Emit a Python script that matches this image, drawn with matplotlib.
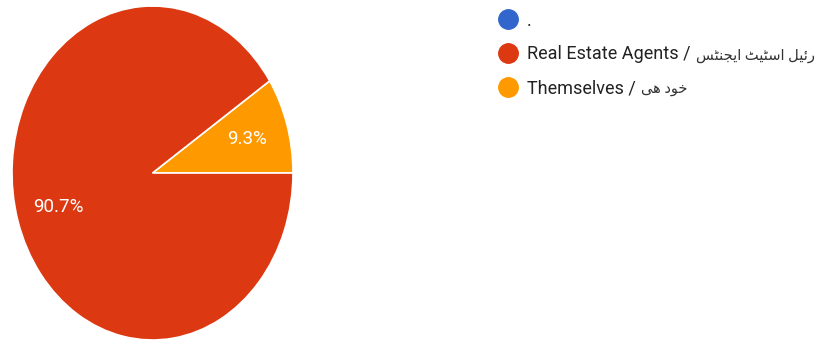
import matplotlib.pyplot as plt
import numpy as np
from matplotlib.lines import Line2D

plt.rcParams['font.family'] = ['Roboto', 'DejaVu Sans']

# Urdu parts are written in presentation forms, visual order (no shaping in matplotlib)
agents_ur = '\uFEB2\uFB69\uFEE8\uFEA0\uFBFE\uFE8D \uFB67\uFBFF\uFB69\uFEB3\uFE8D \uFEDE\uFBFF\uFE8B\uFEAD'
self_ur = '\uFBFD\uFEEB \uFEA9\uFEEE\uFEA7'

labels = ['.', 'Real Estate Agents /', 'Themselves /']
labels_ur = ['', agents_ur, self_ur]
values = [0.0, 90.7, 9.3]
colors = ['#3366cc', '#dc3912', '#ff9900']

fig = plt.figure(figsize=(8.24, 3.41), dpi=100)
ax = fig.add_axes([12 / 824, 1 / 341, 281 / 824, 334 / 341])

# draw orange first from 3 o'clock going counter-clockwise, then red
order = [2, 1]
wedges, _ = ax.pie([values[i] for i in order], colors=[colors[i] for i in order],
                   startangle=0, counterclock=True,
                   wedgeprops=dict(edgecolor='white', linewidth=1.2))
ax.set_aspect('auto')
ax.set_xlim(-1, 1)
ax.set_ylim(-1, 1)

# percentage labels inside the slices
for w, i in zip(wedges, order):
    mid = np.deg2rad((w.theta1 + w.theta2) / 2)
    ax.text(0.70 * np.cos(mid), 0.70 * np.sin(mid), f'{values[i]:.1f}%',
            ha='center', va='center', color='white', fontsize=13.5)

handles = [Line2D([], [], marker='o', linestyle='', markersize=14,
                  markerfacecolor=c, markeredgecolor=c) for c in colors]
leg = ax.legend(handles, labels, loc='upper left', bbox_to_anchor=(499 / 824, 0.966),
                bbox_transform=fig.transFigure, frameon=False, borderpad=0,
                borderaxespad=0, handlelength=1, handletextpad=0.55,
                labelspacing=0.88, fontsize=13, labelcolor='#222222')
fig.canvas.draw()

# urdu half of each label, a bit smaller, right after the english text
for t, ur in zip(leg.get_texts(), labels_ur):
    if ur:
        ax.annotate(ur, xy=(1, 0.45), xycoords=t, xytext=(4, 0),
                    textcoords='offset points', ha='left', va='center',
                    fontsize=10.5, color='#333333', zorder=10,
                    annotation_clip=False)

fig.savefig('out.png', dpi=100, facecolor='white')
